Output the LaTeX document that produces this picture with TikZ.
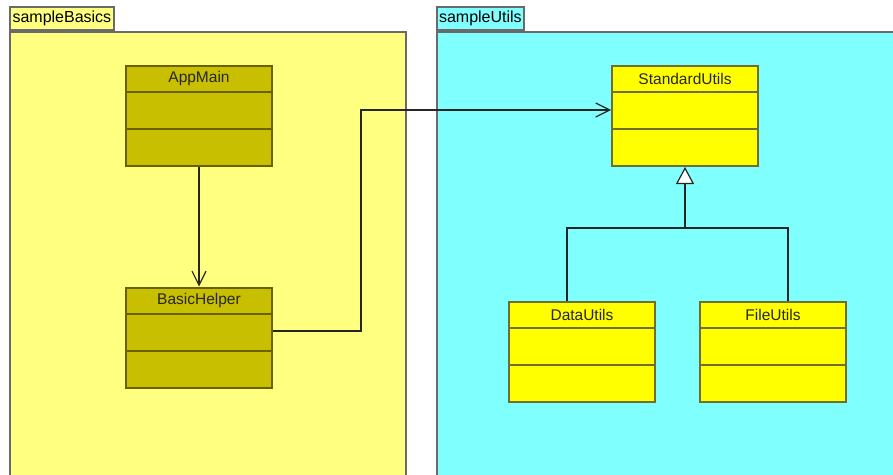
\documentclass[tikz,border=0pt]{standalone}
\usepackage{fontspec}
\setmainfont{Liberation Sans}
\usetikzlibrary{arrows.meta,calc}
\definecolor{pkgY}{HTML}{FFFF80}
\definecolor{pkgC}{HTML}{80FFFF}
\definecolor{olv}{HTML}{C8BF00}
\definecolor{olvB}{HTML}{6A6000}
\definecolor{ylw}{HTML}{FFFF00}
\definecolor{ylwB}{HTML}{6E6E30}
\definecolor{pkgBd}{HTML}{6A6A6A}
\tikzset{
  pkgbody/.style={draw=pkgBd, line width=1.8pt, rectangle, inner sep=0pt, anchor=north west},
  pkgtab/.style={draw=pkgBd, line width=1.8pt, rectangle, inner sep=0pt, anchor=south west, minimum height=23pt, font=\fontsize{16}{19}\selectfont},
  cls/.style={rectangle, line width=2pt, inner sep=0pt, minimum width=146pt, minimum height=100pt},
  clsname/.style={font=\fontsize{15.5}{18}\selectfont, inner sep=0pt, text=black!85},
  conn/.style={draw=black!85, line width=1.2pt},
  dep/.style={conn, -{Straight Barb[length=14pt,width=14pt,line width=1.2pt]}},
  gen/.style={conn, -{Triangle[length=17pt,width=18pt,fill=white,line width=1.2pt]}}
}
\begin{document}
\begin{tikzpicture}[x=1pt,y=-1pt]
\useasboundingbox (0,0) rectangle (893,474);
\clip (0,0) rectangle (893,474);
\fill[white] (0,0) rectangle (893,474);
% packages
\node[pkgbody, fill=pkgY, minimum width=396pt, minimum height=470pt] (pb) at (9,31) {};
\node[pkgtab, fill=pkgY, minimum width=104pt] (pbt) at (9,31) {sampleBasics};
\node[pkgbody, fill=pkgC, minimum width=480pt, minimum height=470pt] (pu) at (436,31) {};
\node[pkgtab, fill=pkgC, minimum width=87pt] (put) at (436,31) {sampleUtils};
% classes
\node[cls, draw=olvB, fill=olv] (am) at (199,116) {};
\node[cls, draw=olvB, fill=olv] (bh) at (199,337.5) {};
\node[cls, draw=ylwB, fill=ylw] (su) at (685,116) {};
\node[cls, draw=ylwB, fill=ylw] (du) at (582,352) {};
\node[cls, draw=ylwB, fill=ylw] (fu) at (773,352) {};
\foreach \c/\t/\b in {am/AppMain/olvB, bh/BasicHelper/olvB, su/StandardUtils/ylwB, du/DataUtils/ylwB, fu/FileUtils/ylwB}{
  \node[clsname] (\c t) at ($(\c.north)+(0,13.5)$) {\t};
  \draw[draw=\b, line width=2pt] ($(\c.north west)+(0,27)$) -- ($(\c.north east)+(0,27)$);
  \draw[draw=\b, line width=2pt] ($(\c.north west)+(0,64)$) -- ($(\c.north east)+(0,64)$);
}
% connectors
\draw[dep] (am.south) -- (bh.north);
\coordinate (k1) at (361,331);
\coordinate (k2) at (361,110);
\draw[dep] (bh.east |- k1) -- (k1) -- (k2) -- (su.west |- k2);
\coordinate (j) at (685,228);
\coordinate (dj) at (567,228);
\coordinate (fj) at (788,228);
\draw[conn] (dj |- du.north) -- (dj) -- (fj) -- (fj |- fu.north);
\draw[gen] (j) -- (su.south);
\end{tikzpicture}
\end{document}
